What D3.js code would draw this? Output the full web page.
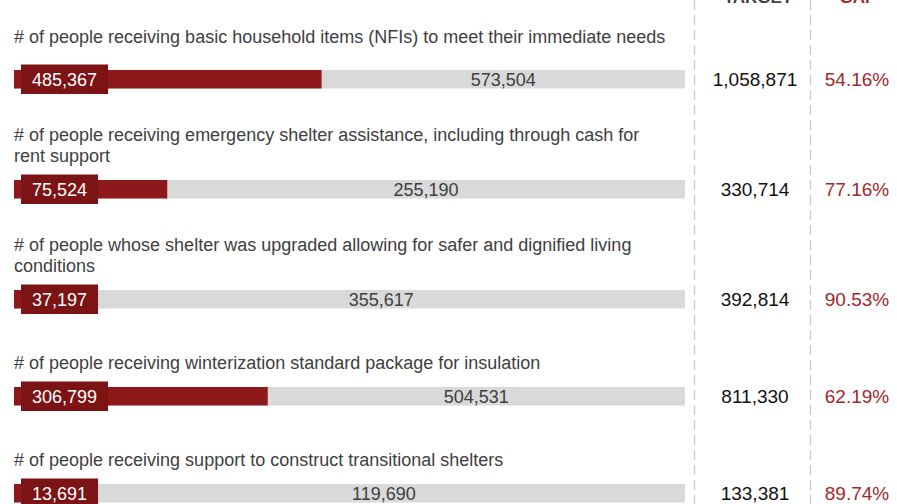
<!DOCTYPE html>
<html>
<head>
<meta charset="utf-8">
<script src="https://cdn.jsdelivr.net/npm/d3@7"></script>
<style>
  body { margin: 0; background: #fff; }
  svg { display: block; font-family: 'Liberation Sans', Arial, sans-serif; }
</style>
</head>
<body>
<div id="chart"></div>
<script>
const indicators = [
  '# of people receiving basic household items (NFIs) to meet their immediate needs',
  '# of people receiving emergency shelter assistance, including through cash for rent support',
  '# of people whose shelter was upgraded allowing for safer and dignified living conditions',
  '# of people receiving winterization standard package for insulation',
  '# of people receiving support to construct transitional shelters',
]
const reached = [485367, 75524, 37197, 306799, 13691]
const remaining = [573504, 255190, 355617, 504531, 119690]
const targets = [1058871, 330714, 392814, 811330, 133381]
const gaps = [54.16, 77.16, 90.53, 62.19, 89.74]
const headers = ['TARGET', 'GAP']

const W = 897, H = 504
const margin = { left: 14, barRight: 685 }
const col1 = 694.5, col2 = 810.5
const barH = 18.5, boxPad = 5.5
const lineH = 21, titleGap = 18

const red = '#8e191b', boxRed = '#7c1315', grey = '#d9d9d9'
const txt = '#404040', pctRed = '#a3282c'

const fmt = d3.format(',')

const svg = d3.select('#chart').append('svg').attr('width', W).attr('height', H)

// dashed column separators
svg.selectAll('.sep')
  .data([col1, col2])
  .enter()
  .append('line')
  .attr('x1', d => d).attr('x2', d => d)
  .attr('y1', 0).attr('y2', H)
  .attr('stroke', '#c9c9c9')
  .attr('stroke-width', 1.3)
  .attr('stroke-dasharray', '10,5')

// column headers (mostly above the visible area, as in the reference)
svg.selectAll('.hdr')
  .data(headers)
  .enter()
  .append('text')
  .attr('x', (d, i) => (i == 0 ? 758 : 858))
  .attr('y', 2.5)
  .attr('text-anchor', 'middle')
  .style('font-size', '17px')
  .style('font-weight', 700)
  .attr('fill', (d, i) => (i == 0 ? txt : pctRed))
  .text(d => d)

// wrap titles into lines
const measurer = svg.append('text').style('font-size', '18px')
function wrap(str, maxW) {
  const words = str.split(' ')
  const lines = []
  let cur = ''
  words.forEach(w => {
    const test = cur ? cur + ' ' + w : w
    measurer.text(test)
    if (measurer.node().getComputedTextLength() > maxW && cur) {
      lines.push(cur)
      cur = w
    } else {
      cur = test
    }
  })
  lines.push(cur)
  return lines
}

const rows = indicators.map((t, i) => ({
  title: t,
  lines: wrap(t, 656),
  reached: reached[i],
  remaining: remaining[i],
  target: targets[i],
  gap: gaps[i],
}))
measurer.remove()

// vertical layout: rows grow with extra title lines
let extra = 0
rows.forEach((r, i) => {
  extra += r.lines.length - 1
  r.barTop = 70 + 97 * i + 13 * extra
  r.titleGap = titleGap + (i == 0 ? 9 : 0)
})

const row = svg.selectAll('.row')
  .data(rows)
  .enter()
  .append('g')
  .attr('class', 'row')
  .attr('transform', d => `translate(0, ${d.barTop})`)

row.each(function (d) {
  const g = d3.select(this)
  const x = d3.scaleLinear().domain([0, d.target]).range([margin.left, margin.barRight])
  const n = d.lines.length

  g.selectAll('.title')
    .data(d.lines)
    .enter()
    .append('text')
    .attr('x', margin.left)
    .attr('y', (l, j) => -d.titleGap - (n - 1 - j) * lineH)
    .style('font-size', '18px')
    .attr('fill', txt)
    .text(l => l)

  g.append('rect')
    .attr('x', x(0)).attr('y', 0)
    .attr('width', x(d.target) - x(0)).attr('height', barH)
    .attr('fill', grey)

  g.append('rect')
    .attr('x', x(0)).attr('y', 0)
    .attr('width', x(d.reached) - x(0)).attr('height', barH)
    .attr('fill', red)

  g.append('text')
    .attr('x', (x(d.reached) + x(d.target)) / 2)
    .attr('y', barH / 2)
    .attr('dy', '0.36em')
    .attr('text-anchor', 'middle')
    .style('font-size', '18px')
    .attr('fill', txt)
    .text(fmt(d.remaining))

  // reached label box
  const lbl = g.append('text')
    .attr('y', barH / 2)
    .attr('dy', '0.36em')
    .attr('text-anchor', 'middle')
    .style('font-size', '18px')
    .attr('fill', '#fff')
    .text(fmt(d.reached))
  const tw = lbl.node().getComputedTextLength()
  const bw = tw + 22
  g.append('rect')
    .attr('x', 21).attr('y', -boxPad)
    .attr('width', bw).attr('height', barH + 2 * boxPad)
    .attr('fill', boxRed)
  lbl.attr('x', 21 + bw / 2).raise()

  g.append('text')
    .attr('x', 755)
    .attr('y', barH / 2)
    .attr('dy', '0.38em')
    .attr('text-anchor', 'middle')
    .style('font-size', '19px')
    .attr('fill', '#111')
    .text(fmt(d.target))

  g.append('text')
    .attr('x', 857)
    .attr('y', barH / 2)
    .attr('dy', '0.38em')
    .attr('text-anchor', 'middle')
    .style('font-size', '19px')
    .attr('fill', pctRed)
    .text(d.gap.toFixed(2) + '%')
})
</script>
</body>
</html>
